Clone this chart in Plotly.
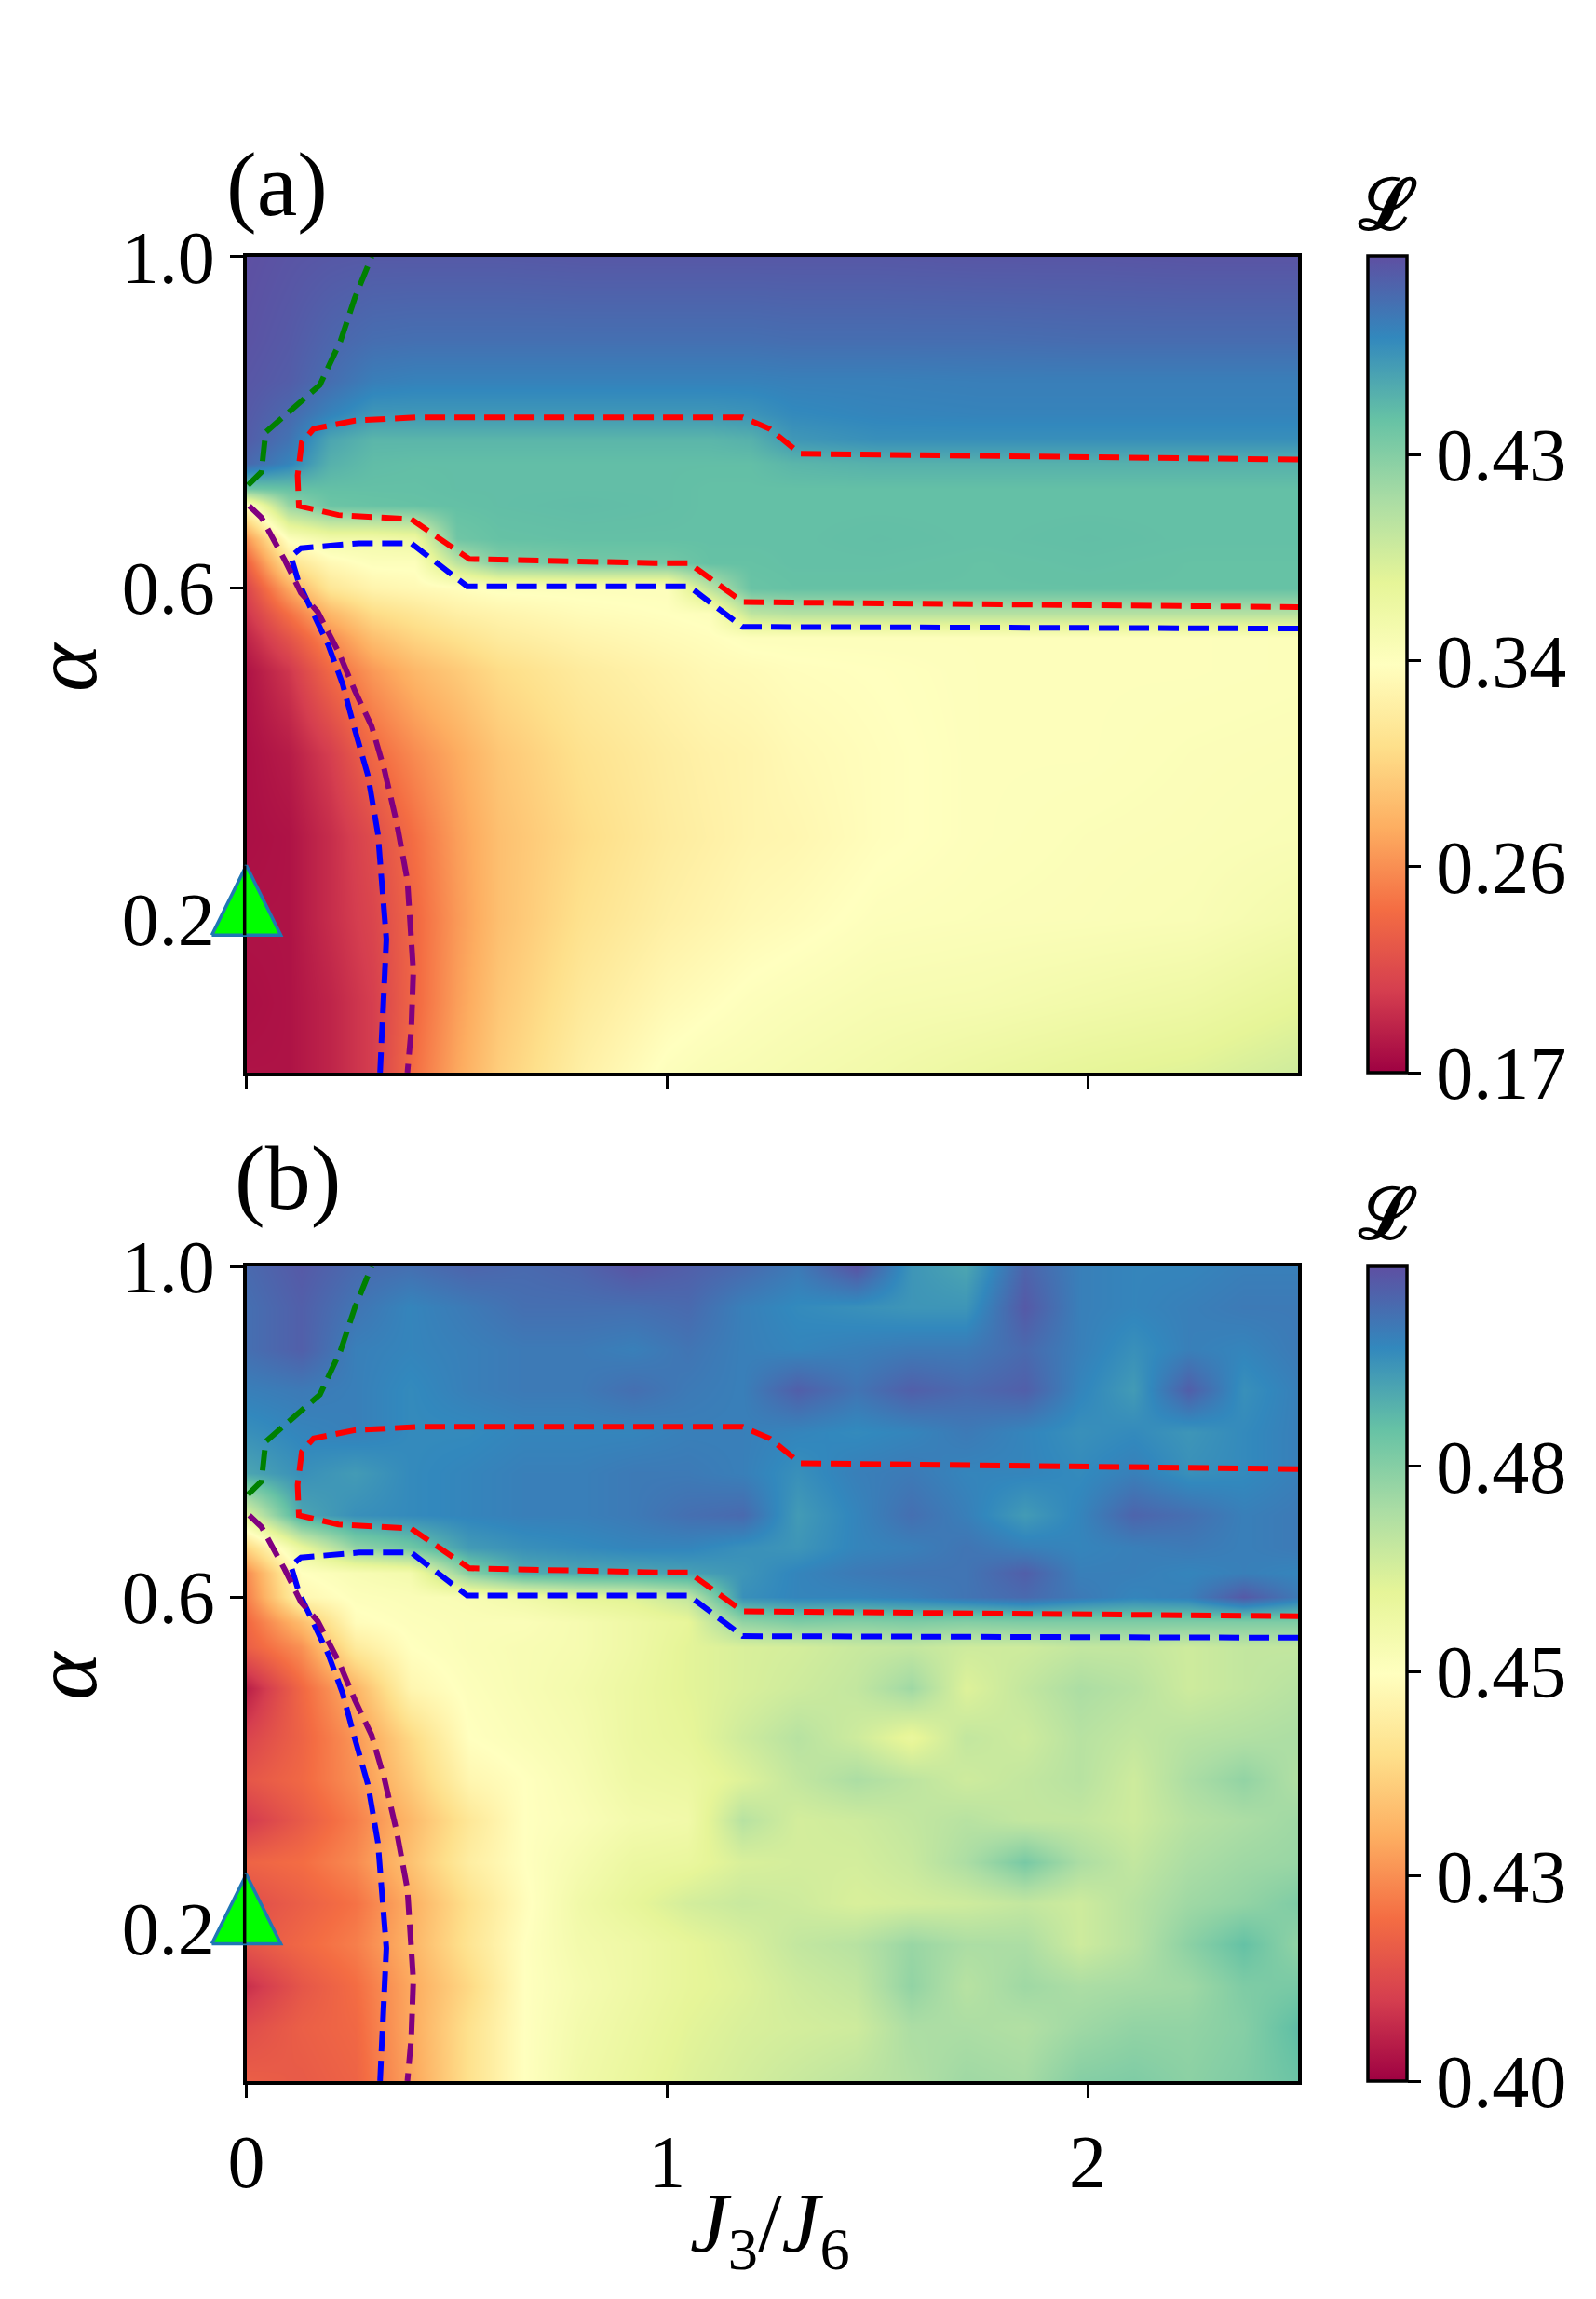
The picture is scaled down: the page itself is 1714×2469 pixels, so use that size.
import plotly.graph_objects as go

W, H = 1714, 2469
FONT = "Liberation Serif"

J_A = [0, .1, .2, .3, .4, .5, .6, .8, 1.0, 1.1, 1.2, 1.3, 1.5, 1.75, 2.0, 2.25, 2.5]
ALPHA_A = [.015, .1, .2, .3, .4, .5, .54, .57, .6, .63, .66, .7, .72, .75, .78, .81, .85, .9, 1.0]
L_A = [
    [.180, .180, .190, .205, .240, .270, .295, .325, .345, .350, .352, .355, .360, .368, .375, .380, .390],
    [.178, .180, .190, .205, .235, .265, .290, .318, .335, .340, .345, .348, .353, .355, .360, .365, .375],
    [.180, .180, .195, .210, .235, .262, .285, .310, .325, .330, .335, .338, .345, .347, .348, .350, .358],
    [.178, .180, .195, .215, .240, .265, .285, .305, .320, .325, .330, .332, .340, .345, .347, .348, .350],
    [.178, .185, .205, .235, .255, .272, .290, .310, .322, .327, .330, .335, .340, .345, .345, .347, .348],
    [.180, .200, .235, .262, .280, .292, .305, .320, .330, .335, .337, .340, .342, .345, .345, .345, .346],
    [.190, .220, .255, .285, .300, .310, .320, .330, .337, .340, .345, .345, .345, .345, .345, .345, .346],
    [.200, .240, .280, .305, .315, .325, .330, .338, .342, .345, .400, .405, .405, .405, .405, .405, .405],
    [.210, .270, .315, .330, .335, .340, .345, .345, .345, .400, .443, .445, .445, .445, .445, .445, .445],
    [.230, .310, .335, .345, .345, .400, .430, .438, .438, .445, .445, .446, .446, .445, .446, .445, .445],
    [.260, .345, .360, .360, .365, .440, .445, .446, .446, .446, .446, .446, .447, .446, .447, .446, .446],
    [.340, .420, .442, .444, .445, .446, .447, .448, .447, .446, .446, .446, .446, .446, .446, .446, .446],
    [.440, .445, .446, .446, .446, .447, .447, .447, .447, .446, .446, .446, .446, .446, .446, .446, .446],
    [.498, .482, .455, .448, .447, .447, .447, .447, .447, .447, .447, .452, .455, .455, .455, .455, .455],
    [.505, .492, .462, .452, .452, .452, .452, .452, .452, .452, .455, .470, .475, .475, .475, .475, .475],
    [.507, .498, .482, .470, .470, .470, .470, .470, .470, .470, .472, .478, .481, .482, .482, .482, .482],
    [.509, .505, .495, .485, .483, .483, .483, .483, .483, .483, .483, .484, .484, .485, .485, .485, .485],
    [.511, .507, .500, .495, .494, .494, .494, .494, .494, .494, .494, .495, .495, .495, .496, .496, .496],
    [.513, .510, .508, .507, .507, .507, .507, .508, .508, .508, .508, .508, .508, .509, .509, .510, .510],
]

J_B = [0, .13, .26, .39, .53, .66, .79, .92, 1.05, 1.18, 1.31, 1.45, 1.58, 1.71, 1.85, 1.98, 2.11, 2.24, 2.37, 2.5]
ALPHA_B = [.015, .08, .13, .18, .23, .28, .33, .38, .43, .49, .54, .57, .6, .63, .66, .7, .75, .8, .85, .9, .95, 1.0]
L_B = [
    [.418, .417, .419, .430, .443, .453, .459, .462, .465, .467, .469, .471, .473, .476, .475, .480, .481, .479, .481, .484],
    [.414, .418, .420, .431, .443, .453, .458, .461, .464, .466, .467, .468, .474, .474, .473, .476, .478, .478, .480, .486],
    [.408, .416, .421, .431, .441, .453, .457, .460, .463, .465, .468, .470, .478, .472, .476, .474, .475, .476, .481, .482],
    [.416, .420, .424, .433, .444, .453, .458, .460, .463, .466, .470, .472, .477, .474, .474, .468, .472, .479, .485, .478],
    [.414, .418, .422, .432, .443, .452, .459, .463, .467, .469, .468, .466, .467, .468, .470, .468, .472, .476, .478, .481],
    [.419, .421, .426, .436, .447, .453, .457, .461, .462, .466, .467, .467, .469, .474, .482, .474, .470, .474, .476, .477],
    [.410, .417, .424, .434, .445, .453, .455, .458, .459, .472, .467, .468, .470, .472, .470, .470, .468, .472, .474, .476],
    [.416, .420, .427, .438, .450, .453, .456, .460, .461, .465, .470, .474, .471, .468, .470, .472, .468, .474, .478, .473],
    [.412, .419, .428, .441, .453, .455, .457, .461, .463, .468, .472, .468, .462, .470, .468, .472, .470, .472, .473, .474],
    [.405, .420, .433, .450, .454, .456, .458, .461, .464, .466, .468, .470, .476, .465, .470, .474, .472, .468, .470, .472],
    [.418, .427, .446, .453, .455, .456, .457, .460, .464, .466, .467, .469, .470, .468, .468, .470, .470, .468, .470, .470],
    [.420, .435, .452, .454, .455, .455, .457, .460, .463, .478, .481, .480, .481, .480, .481, .481, .481, .481, .481, .481],
    [.424, .450, .454, .455, .456, .459, .463, .465, .470, .494, .496, .496, .497, .499, .501, .498, .496, .497, .504, .498],
    [.426, .453, .456, .458, .480, .489, .490, .490, .491, .493, .496, .498, .499, .499, .503, .497, .497, .496, .497, .496],
    [.440, .462, .478, .483, .492, .494, .495, .496, .496, .494, .493, .496, .497, .499, .497, .496, .497, .498, .497, .498],
    [.465, .490, .494, .495, .496, .497, .497, .498, .500, .501, .492, .496, .500, .497, .492, .496, .502, .500, .497, .498],
    [.490, .494, .492, .495, .496, .497, .497, .498, .498, .497, .494, .497, .498, .496, .496, .495, .497, .494, .495, .497],
    [.494, .496, .497, .495, .495, .496, .496, .496, .497, .497, .496, .495, .496, .498, .496, .494, .495, .493, .495, .497],
    [.497, .498, .497, .495, .497, .498, .498, .500, .498, .497, .503, .499, .503, .501, .503, .496, .492, .503, .494, .497],
    [.500, .503, .497, .496, .497, .498, .498, .497, .499, .497, .496, .497, .498, .498, .501, .497, .494, .497, .496, .498],
    [.500, .503, .499, .496, .498, .500, .500, .500, .501, .497, .495, .494, .493, .493, .504, .497, .496, .497, .498, .498],
    [.501, .504, .501, .500, .502, .501, .502, .505, .503, .501, .498, .505, .493, .490, .502, .497, .496, .496, .497, .497],
]

GREEN_X = [.004, .036, .046, .175, .224, .258, .298]
GREEN_Y = [.724, .740, .788, .845, .898, .950, 1.0]
RED_X = [2.5, 1.317, 1.244, 1.18, .97, .407, .258, .160, .132, .122, .125, .175, .219, .392, .530, .970, 1.052, 1.18, 2.5]
RED_Y = [.755, .762, .792, .806, .806, .806, .802, .792, .776, .736, .699, .693, .688, .683, .635, .630, .630, .583, .577]
BLUE_X = [.318, .326, .333, .313, .289, .258, .229, .195, .155, .125, .106, .130, .268, .392, .525, .970, 1.052, 1.18, 2.5]
BLUE_Y = [.015, .09, .176, .303, .374, .429, .484, .531, .575, .606, .638, .648, .654, .654, .602, .602, .602, .553, .551]
PURPLE_X = [.007, .036, .091, .130, .170, .219, .258, .298, .328, .357, .383, .397, .392, .383]
PURPLE_Y = [.699, .685, .634, .594, .571, .523, .476, .433, .381, .318, .247, .137, .066, .015]

MARK_X, MARK_Y = [0.0], [.223]

CB_A_VALS = [.17, .2567, .3433, .43]
CB_A_TEXT = ["0.17", "0.26", "0.34", "0.43"]
CB_B_VALS = [.40, .4267, .4533, .48]
CB_B_TEXT = ["0.40", "0.43", "0.45", "0.48"]
SPECTRAL = ["#9e0142", "#d53e4f", "#f46d43", "#fdae61", "#fee08b", "#ffffbf",
            "#e6f598", "#abdda4", "#66c2a5", "#3288bd", "#5e4fa2"]
CSCALE = [[i / 10, c] for i, c in enumerate(SPECTRAL)]

LW = 3.5
LEFT, RIGHT = 264.5, 1394
YMIN = .015
PANELS = [
    dict(top=275.5, bot=1152, x=J_A, y=ALPHA_A, z=L_A, zmin=.17, zmax=.5135, vals=CB_A_VALS, text=CB_A_TEXT, ax="", mk="3"),
    dict(top=1360, bot=2235, x=J_B, y=ALPHA_B, z=L_B, zmin=.40, zmax=.506, vals=CB_B_VALS, text=CB_B_TEXT, ax="2", mk="4"),
]

fig = go.Figure()
for p in PANELS:
    s = p["ax"]
    fig.add_trace(go.Heatmap(
        x=p["x"], y=p["y"], z=p["z"], zsmooth="best", colorscale=CSCALE, zmin=p["zmin"], zmax=p["zmax"],
        xaxis="x" + s, yaxis="y" + s,
        colorbar=dict(
            x=1468.5 / W, xanchor="left", xpad=0, ypad=0, thickness=42, thicknessmode="pixels",
            lenmode="fraction", len=(p["bot"] - p["top"]) / H, y=1 - p["bot"] / H, yanchor="bottom",
            outlinewidth=LW, outlinecolor="black", ticks="outside", ticklen=14, tickwidth=2.5,
            tickcolor="black", tickmode="array", tickvals=p["vals"], ticktext=p["text"],
            tickfont=dict(family=FONT, size=80, color="black"),
        ),
    ))
    for lx, ly, col in [(GREEN_X, GREEN_Y, "green"), (RED_X, RED_Y, "red"),
                        (BLUE_X, BLUE_Y, "blue"), (PURPLE_X, PURPLE_Y, "purple")]:
        fig.add_trace(go.Scatter(x=lx, y=ly, mode="lines", xaxis="x" + s, yaxis="y" + s,
                                 line=dict(color=col, width=6, dash="22px,10px"), showlegend=False))
    hw, hh = .082, .042
    fig.add_trace(go.Scatter(
        x=[MARK_X[0] - hw, MARK_X[0], MARK_X[0] + hw, MARK_X[0] - hw],
        y=[MARK_Y[0] - hh, MARK_Y[0] + hh, MARK_Y[0] - hh, MARK_Y[0] - hh],
        mode="lines", fill="toself", fillcolor="#00ff00", line=dict(color="#1f77b4", width=3.5),
        xaxis="x" + p["mk"], yaxis="y" + p["mk"], showlegend=False))
    fig.add_trace(go.Scatter(
        x=[-.004, -.004], y=[MARK_Y[0] - hh, MARK_Y[0] + hh], mode="lines",
        line=dict(color="black", width=3.5), xaxis="x" + p["mk"], yaxis="y" + p["mk"], showlegend=False))

axis_common = dict(showline=True, mirror=True, linecolor="black", linewidth=LW, showgrid=False, zeroline=False,
                   ticks="outside", ticklen=14, tickwidth=2.5, tickcolor="black",
                   tickfont=dict(family=FONT, size=80, color="black"))
dom_x = [LEFT / W, RIGHT / W]
layout = dict(width=W, height=H, margin=dict(l=0, r=0, t=0, b=0, autoexpand=False), autosize=False,
              paper_bgcolor="white", plot_bgcolor="rgba(0,0,0,0)", showlegend=False)
sx = (RIGHT - LEFT) / 2.5
for p in PANELS:
    s = p["ax"]
    if s == "":
        xtick = dict(tickvals=[0, 1, 2], showticklabels=False)
    else:
        xtick = dict(tickvals=[0, 1, 2], ticktext=["0", "1", "2"])
    layout["xaxis" + s] = dict(axis_common, domain=dom_x, range=[0, 2.5], anchor="y" + s, **xtick)
    layout["yaxis" + s] = dict(axis_common, domain=[1 - p["bot"] / H, 1 - p["top"] / H], range=[YMIN, 1.0],
                               tickvals=[.2, .6, 1.0], ticktext=["0.2", "0.6", "1.0"], anchor="x" + s)
    # invisible axes with the same scale, wider than the frame, so the marker can overhang the spine
    sy = (p["bot"] - p["top"]) / (1 - YMIN)
    ypx = p["top"] + (1 - MARK_Y[0]) * sy
    pad = 70
    layout["xaxis" + p["mk"]] = dict(visible=False, domain=[(LEFT - pad) / W, (LEFT + pad) / W],
                                     range=[-pad / sx, pad / sx], anchor="y" + p["mk"])
    layout["yaxis" + p["mk"]] = dict(visible=False, domain=[1 - (ypx + pad) / H, 1 - (ypx - pad) / H],
                                     range=[MARK_Y[0] - pad / sy, MARK_Y[0] + pad / sy], anchor="x" + p["mk"])
fig.update_layout(**layout)


def note(text, x, y, size, xanchor="center", angle=0, family=FONT):
    fig.add_annotation(text=text, x=x / W, y=1 - y / H, xref="paper", yref="paper", xanchor=xanchor,
                       yanchor="middle", showarrow=False, textangle=angle,
                       font=dict(family=family, size=size, color="black"))


note("(a)", 241, 198, 98, xanchor="left")
note("(b)", 250, 1265, 98, xanchor="left")
note("<b>ℒ</b>", 1490, 219, 76, family="DejaVu Serif")
note("<b>ℒ</b>", 1490, 1303, 76, family="DejaVu Serif")
note("<i>α</i>", 70, 716, 98, angle=-90)
note("<i>α</i>", 70, 1799, 98, angle=-90)
note("<i>J</i><sub>3</sub>/<i>J</i><sub>6</sub>", 827, 2393, 92)

fig.write_html("out.html", post_script="document.body.style.margin='0';", config={"displayModeBar": False})
